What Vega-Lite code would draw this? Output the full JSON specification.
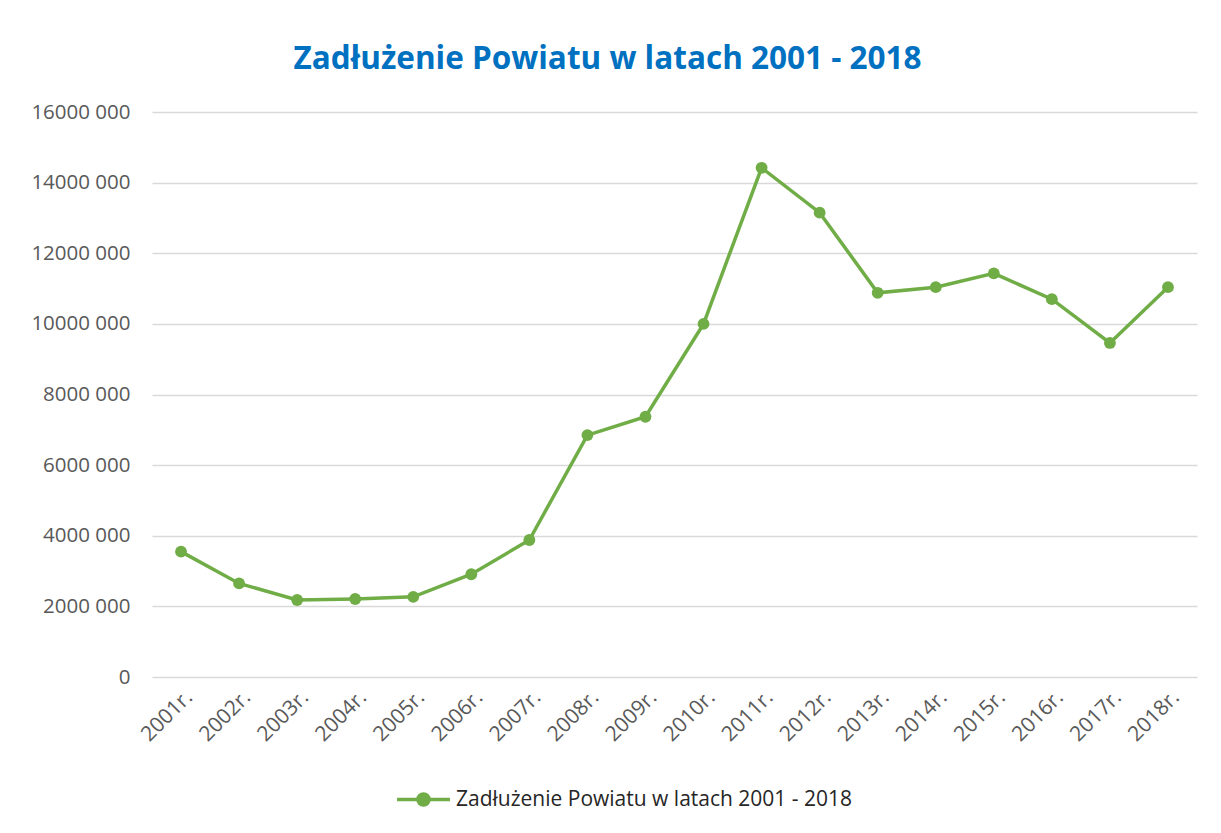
{
  "$schema": "https://vega.github.io/schema/vega-lite/v6.json",
  "width": 1045,
  "height": 565,
  "autosize": {"type": "none"},
  "padding": {"left": 152, "top": 112, "right": 24, "bottom": 156},
  "background": "white",
  "title": {
    "text": "Zadłużenie Powiatu w latach 2001 - 2018",
    "font": "Open Sans",
    "fontSize": 31.5,
    "fontWeight": "bold",
    "color": "#0070C0",
    "anchor": "middle",
    "dx": -67,
    "offset": 27
  },
  "data": {
    "values": [
      {"rok": "2001r.", "kwota": 3550000, "seria": "Zadłużenie Powiatu w latach 2001 - 2018"},
      {"rok": "2002r.", "kwota": 2650000, "seria": "Zadłużenie Powiatu w latach 2001 - 2018"},
      {"rok": "2003r.", "kwota": 2180000, "seria": "Zadłużenie Powiatu w latach 2001 - 2018"},
      {"rok": "2004r.", "kwota": 2210000, "seria": "Zadłużenie Powiatu w latach 2001 - 2018"},
      {"rok": "2005r.", "kwota": 2270000, "seria": "Zadłużenie Powiatu w latach 2001 - 2018"},
      {"rok": "2006r.", "kwota": 2910000, "seria": "Zadłużenie Powiatu w latach 2001 - 2018"},
      {"rok": "2007r.", "kwota": 3880000, "seria": "Zadłużenie Powiatu w latach 2001 - 2018"},
      {"rok": "2008r.", "kwota": 6850000, "seria": "Zadłużenie Powiatu w latach 2001 - 2018"},
      {"rok": "2009r.", "kwota": 7370000, "seria": "Zadłużenie Powiatu w latach 2001 - 2018"},
      {"rok": "2010r.", "kwota": 10000000, "seria": "Zadłużenie Powiatu w latach 2001 - 2018"},
      {"rok": "2011r.", "kwota": 14420000, "seria": "Zadłużenie Powiatu w latach 2001 - 2018"},
      {"rok": "2012r.", "kwota": 13150000, "seria": "Zadłużenie Powiatu w latach 2001 - 2018"},
      {"rok": "2013r.", "kwota": 10880000, "seria": "Zadłużenie Powiatu w latach 2001 - 2018"},
      {"rok": "2014r.", "kwota": 11040000, "seria": "Zadłużenie Powiatu w latach 2001 - 2018"},
      {"rok": "2015r.", "kwota": 11430000, "seria": "Zadłużenie Powiatu w latach 2001 - 2018"},
      {"rok": "2016r.", "kwota": 10700000, "seria": "Zadłużenie Powiatu w latach 2001 - 2018"},
      {"rok": "2017r.", "kwota": 9460000, "seria": "Zadłużenie Powiatu w latach 2001 - 2018"},
      {"rok": "2018r.", "kwota": 11040000, "seria": "Zadłużenie Powiatu w latach 2001 - 2018"}
    ]
  },
  "mark": {
    "type": "line",
    "strokeWidth": 3.5,
    "point": {"filled": true, "size": 140, "color": "#70AD47"}
  },
  "encoding": {
    "x": {
      "field": "rok",
      "type": "ordinal",
      "sort": null,
      "scale": {"type": "point", "padding": 0.5},
      "axis": {
        "title": null,
        "labelAngle": -45,
        "labelFont": "Open Sans",
        "labelFontSize": 21,
        "labelColor": "#595959",
        "labelPadding": 9,
        "ticks": false,
        "domain": false,
        "grid": false
      }
    },
    "y": {
      "field": "kwota",
      "type": "quantitative",
      "scale": {"domain": [0, 16000000], "nice": false},
      "axis": {
        "title": null,
        "values": [0, 2000000, 4000000, 6000000, 8000000, 10000000, 12000000, 14000000, 16000000],
        "labelExpr": "datum.value == 0 ? '0' : floor(datum.value / 1000) + ' 000'",
        "labelFont": "Open Sans",
        "labelFontSize": 20.5,
        "labelColor": "#595959",
        "labelPadding": 22,
        "ticks": false,
        "domain": false,
        "grid": true,
        "gridColor": "#D9D9D9",
        "gridWidth": 1.5
      }
    },
    "color": {
      "field": "seria",
      "type": "nominal",
      "scale": {"range": ["#70AD47"]},
      "legend": {
        "title": null,
        "orient": "none",
        "legendX": 243,
        "legendY": 659,
        "direction": "horizontal",
        "labelFont": "Open Sans",
        "labelFontSize": 21,
        "labelColor": "#262626",
        "labelLimit": 0,
        "symbolType": "M-1,0H1M0.21,0A0.21,0.21,0,1,1,-0.21,0A0.21,0.21,0,1,1,0.21,0Z",
        "symbolSize": 2800,
        "symbolStrokeWidth": 3.5,
        "symbolFillColor": "#70AD47",
        "symbolStrokeColor": "#70AD47",
        "labelOffset": 4
      }
    }
  },
  "config": {
    "view": {"stroke": null}
  }
}
